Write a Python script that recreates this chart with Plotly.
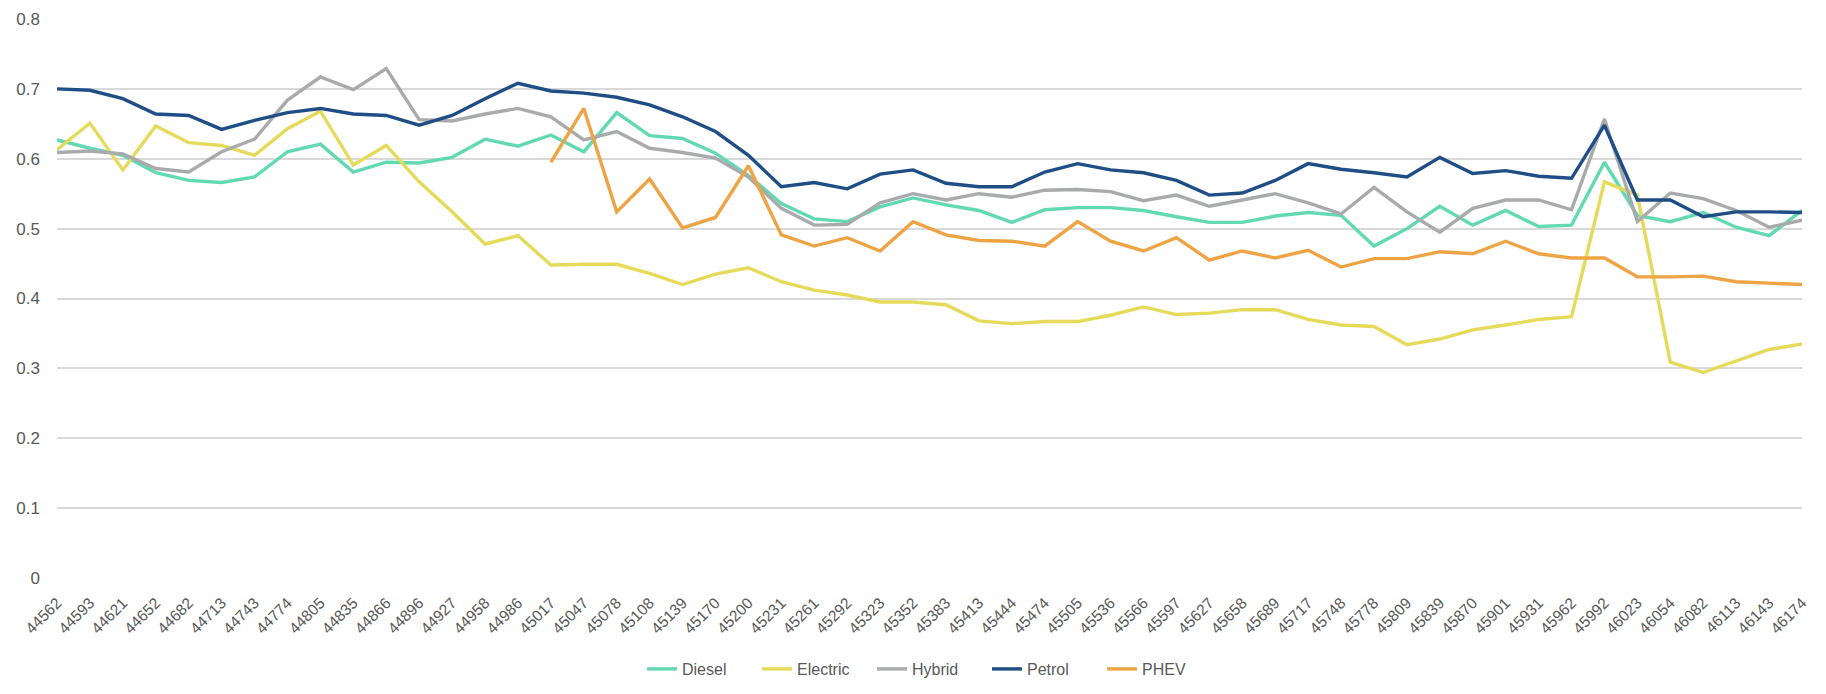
import plotly.graph_objects as go

categories = ["44562","44593","44621","44652","44682","44713","44743","44774","44805","44835",
              "44866","44896","44927","44958","44986","45017","45047","45078","45108","45139",
              "45170","45200","45231","45261","45292","45323","45352","45383","45413","45444",
              "45474","45505","45536","45566","45597","45627","45658","45689","45717","45748",
              "45778","45809","45839","45870","45901","45931","45962","45992","46023","46054",
              "46082","46113","46143","46174"]

diesel = [0.627,0.615,0.605,0.580,0.569,0.566,0.574,0.610,0.621,0.581,
          0.595,0.594,0.602,0.628,0.618,0.634,0.610,0.666,0.633,0.629,
          0.608,0.576,0.536,0.514,0.510,0.531,0.544,0.534,0.526,0.509,
          0.527,0.530,0.530,0.526,0.517,0.509,0.509,0.518,0.523,0.519,
          0.475,0.500,0.532,0.505,0.526,0.503,0.505,0.595,0.519,0.510,
          0.523,0.502,0.490,0.526]

electric = [0.613,0.651,0.584,0.647,0.623,0.619,0.605,0.643,0.668,0.591,
            0.619,0.567,0.524,0.478,0.490,0.448,0.449,0.449,0.436,0.420,
            0.435,0.444,0.424,0.412,0.405,0.395,0.395,0.391,0.368,0.364,
            0.367,0.367,0.376,0.388,0.377,0.379,0.384,0.384,0.370,0.362,
            0.360,0.334,0.342,0.355,0.362,0.370,0.374,0.567,0.548,0.309,
            0.294,0.311,0.327,0.335]

hybrid = [0.609,0.611,0.607,0.586,0.581,0.610,0.628,0.684,0.717,0.699,
          0.729,0.656,0.654,0.664,0.672,0.660,0.627,0.639,0.615,0.609,
          0.601,0.574,0.529,0.505,0.506,0.537,0.550,0.541,0.550,0.545,
          0.555,0.556,0.553,0.540,0.548,0.532,0.541,0.550,0.537,0.521,
          0.559,0.524,0.495,0.529,0.541,0.541,0.527,0.657,0.510,0.551,
          0.543,0.526,0.502,0.512]

petrol = [0.700,0.698,0.686,0.664,0.662,0.642,0.655,0.666,0.672,0.664,
          0.662,0.648,0.662,0.686,0.708,0.697,0.694,0.688,0.677,0.660,
          0.639,0.605,0.560,0.566,0.557,0.578,0.584,0.565,0.560,0.560,
          0.581,0.593,0.584,0.580,0.569,0.548,0.551,0.569,0.593,0.585,
          0.580,0.574,0.602,0.579,0.583,0.575,0.572,0.648,0.541,0.541,
          0.517,0.524,0.524,0.523]

phev = [None]*15 + [0.595,0.672,0.524,0.571,0.501,
        0.516,0.590,0.491,0.475,0.487,0.468,0.510,0.491,0.483,0.482,
        0.475,0.510,0.482,0.468,0.487,0.455,0.468,0.458,0.469,0.445,
        0.457,0.457,0.467,0.464,0.482,0.464,0.458,0.458,0.431,0.431,
        0.432,0.424,0.422,0.420]

series = [
    ("Diesel", diesel, "#62d9b2"),
    ("Electric", electric, "#e6da5b"),
    ("Hybrid", hybrid, "#a8aaac"),
    ("Petrol", petrol, "#1f4e86"),
    ("PHEV", phev, "#eea444"),
]

fig = go.Figure()
for name, vals, color in series:
    fig.add_trace(go.Scatter(x=categories, y=vals, name=name, mode="lines",
                             line=dict(color=color, width=3.4), connectgaps=False))

fig.update_layout(
    width=1826, height=694,
    margin=dict(l=57, r=24, t=19, b=116, autoexpand=False),
    paper_bgcolor="white", plot_bgcolor="white",
    font=dict(family="Liberation Sans, Arial, sans-serif", size=16, color="#595959"),
    showlegend=True,
    legend=dict(orientation="h", x=0.5, xanchor="center",
                yref="container", y=0.036, yanchor="middle",
                font=dict(size=16, color="#595959"), itemwidth=30, tracegroupgap=0,
                entrywidth=70, entrywidthmode="pixels"),
)
fig.update_xaxes(type="category", tickangle=-45, showgrid=False, showline=False,
                 ticks="", tickfont=dict(size=15.5, color="#595959"), ticklabelstandoff=12,
                 zeroline=False, automargin=False)
fig.update_yaxes(range=[0, 0.8], dtick=0.1, showgrid=True, gridcolor="#d9d9d9", gridwidth=1.5,
                 zeroline=False, showline=False, ticks="", ticklabelstandoff=16,
                 tickfont=dict(size=17, color="#595959"), automargin=False)

fig.write_html("out.html")
